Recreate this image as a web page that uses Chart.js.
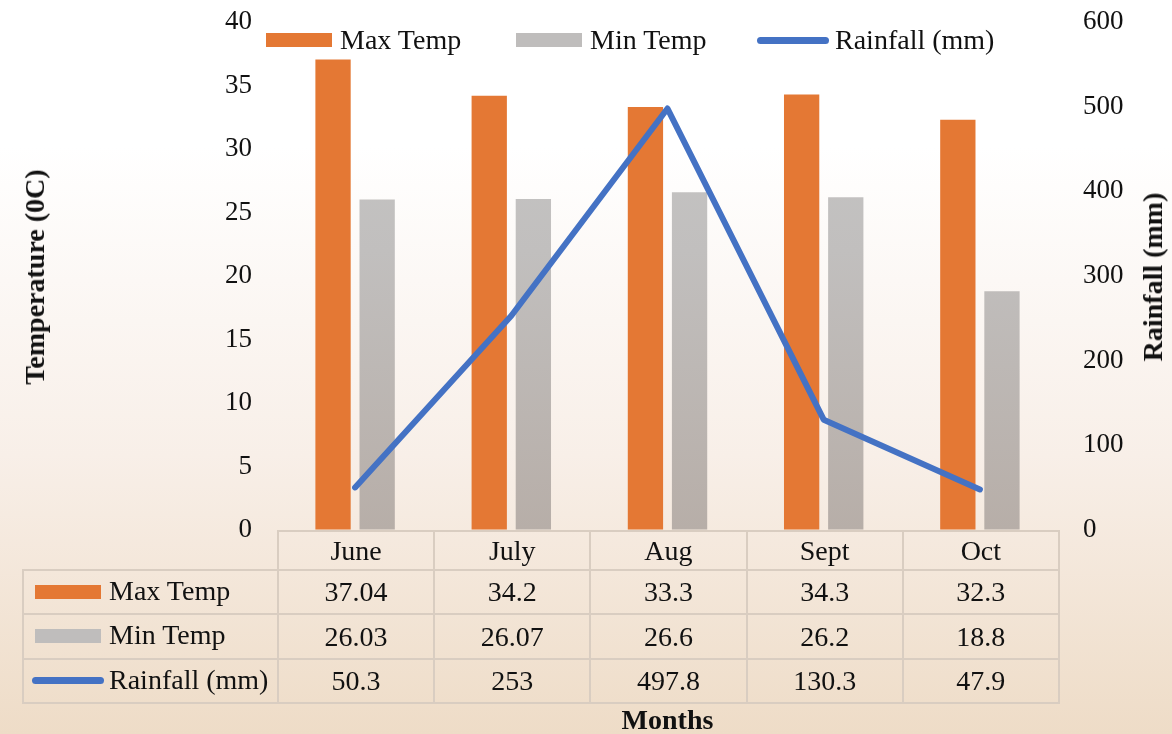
<!DOCTYPE html>
<html>
<head>
<meta charset="utf-8">
<script src="https://cdn.jsdelivr.net/npm/chart.js@4/dist/chart.umd.min.js"></script>
<style>
html,body{margin:0;padding:0;}
body{width:1172px;height:734px;overflow:hidden;position:relative;
  background:linear-gradient(to bottom,#ffffff 0%,#ffffff 20%,#f8efe8 62%,#eedcc7 100%);
  font-family:"Liberation Serif","Times New Roman",serif;color:#111;}
#c{position:absolute;left:0;top:0;}
.abs{position:absolute;white-space:nowrap;}
.lgtext{font-size:28px;line-height:28px;}
.title{font-weight:bold;font-size:28px;line-height:28px;}
table.dt{position:absolute;border-collapse:collapse;table-layout:fixed;font-size:28px;}
table.dt td{border:2px solid #d9cdc1;text-align:center;padding:0;white-space:nowrap;line-height:28px;}
table.dt td.lab{text-align:left;position:relative;}
table.dt td.blank{border:none;}
.sw{display:inline-block;position:absolute;}
</style>
</head>
<body>
<canvas id="c" width="1172" height="734"></canvas>
<script>
// ---- data ----
const categories = ['June', 'July', 'Aug', 'Sept', 'Oct'];
const maxTemp = [37.04, 34.2, 33.3, 34.3, 32.3];
const minTemp = [26.03, 26.07, 26.6, 26.2, 18.8];
const rainfall = [50.3, 253, 497.8, 130.3, 47.9];
const seriesNames = ['Max Temp', 'Min Temp', 'Rainfall (mm)'];
const tempAxis = {min: 0, max: 40, step: 5};
const rainAxis = {min: 0, max: 600, step: 100};

const ORANGE = '#e47834';
const GRAY = '#c0bdbb';
const BLUE = '#4472c4';
const FONT = '"Liberation Serif","Times New Roman",serif';

function grayFill(c){
  const a = c.chart.chartArea;
  if(!a) return GRAY;
  const g = c.chart.ctx.createLinearGradient(0, a.top, 0, a.bottom);
  g.addColorStop(0, '#c7c7c7');
  g.addColorStop(0.45, '#c1bfbe');
  g.addColorStop(1, '#b7aea8');
  return g;
}

const hiddenGrid = {display: true, drawOnChartArea: false, drawTicks: true, tickLength: 25, color: 'rgba(0,0,0,0)'};

const chart = new Chart(document.getElementById('c'), {
  type: 'bar',
  data: {
    labels: categories,
    datasets: [
      {label: seriesNames[0], data: maxTemp, backgroundColor: ORANGE, yAxisID: 'y', order: 1,
       barPercentage: 0.8, categoryPercentage: 0.565},
      {label: seriesNames[1], data: minTemp, backgroundColor: grayFill, yAxisID: 'y', order: 1,
       barPercentage: 0.8, categoryPercentage: 0.565},
      {type: 'line', label: seriesNames[2], data: rainfall, yAxisID: 'y1', order: 0,
       borderColor: BLUE, borderWidth: 6, pointRadius: 0, tension: 0, fill: false,
       borderCapStyle: 'round', borderJoinStyle: 'round'}
    ]
  },
  options: {
    responsive: false,
    animation: false,
    layout: {padding: {left: 0, right: 0, top: 22, bottom: 204}},
    plugins: {legend: {display: false}, tooltip: {enabled: false}},
    scales: {
      x: {display: false, offset: true},
      y: {position: 'left', min: tempAxis.min, max: tempAxis.max,
          ticks: {stepSize: tempAxis.step, padding: 0, color: '#111', font: {family: FONT, size: 27}},
          grid: hiddenGrid, border: {display: false},
          afterFit: s => { s.width = 277; }},
      y1: {position: 'right', min: rainAxis.min, max: rainAxis.max,
          ticks: {stepSize: rainAxis.step, padding: 0, color: '#111', font: {family: FONT, size: 27}},
          grid: hiddenGrid, border: {display: false},
          afterFit: s => { s.width = 114; }}
    }
  }
});

// ---- overlays: legend, data table, titles ----
const area = chart.chartArea;
const xs = chart.scales.x;
const body = document.body;

function el(tag, cls, css, text){
  const e = document.createElement(tag);
  if(cls) e.className = cls;
  if(css) Object.assign(e.style, css);
  if(text !== undefined) e.textContent = text;
  return e;
}
function swatch(kind, left, top){
  if(kind === 2){
    return el('span', 'sw', {left: left + 'px', top: top + 'px', width: '72px', height: '7px',
      borderRadius: '4px', background: BLUE});
  }
  return el('span', 'sw', {left: left + 'px', top: top + 'px', width: '66px', height: '14px',
    background: kind === 0 ? ORANGE : '#bfbdbc'});
}

// legend
const legendItems = [
  {sw: 266, tx: 340, kind: 0},
  {sw: 516, tx: 590, kind: 1},
  {sw: 757, tx: 835, kind: 2}
];
legendItems.forEach((it, i) => {
  const top = it.kind === 2 ? 37 : 33;
  body.appendChild(swatch(it.kind, it.sw, top));
  body.appendChild(el('div', 'abs lgtext', {left: it.tx + 'px', top: '26px'}, seriesNames[i]));
});

// data table
const tblLeft = 22;
const colW = (xs.right - xs.left) / categories.length;
const labW = xs.left - tblLeft;
const tbl = el('table', 'dt', {left: tblLeft + 'px', top: (area.bottom) + 'px',
  width: (labW + colW * categories.length) + 'px'});
const cg = document.createElement('colgroup');
cg.appendChild(el('col', null, {width: labW + 'px'}));
categories.forEach(() => cg.appendChild(el('col', null, {width: colW + 'px'})));
tbl.appendChild(cg);
const rowH = [39, 42, 43, 42];
const hr = el('tr', null, {height: rowH[0] + 'px'});
hr.appendChild(el('td', 'blank'));
categories.forEach(c => hr.appendChild(el('td', null, null, c)));
tbl.appendChild(hr);
[maxTemp, minTemp, rainfall].forEach((arr, r) => {
  const tr = el('tr', null, {height: rowH[r + 1] + 'px'});
  const lab = el('td', 'lab');
  const inner = el('div', null, {position: 'relative', height: rowH[r + 1] + 'px'});
  if(r === 2){
    inner.appendChild(swatch(2, 8, 17));
  } else {
    inner.appendChild(swatch(r, 11, 14));
  }
  inner.appendChild(el('span', 'abs', {left: '85px', top: '6px'}, seriesNames[r]));
  lab.appendChild(inner);
  tr.appendChild(lab);
  arr.forEach(v => tr.appendChild(el('td', null, null, String(v))));
  tbl.appendChild(tr);
});
body.appendChild(tbl);

// axis titles
function rotTitle(text, cx, cy){
  body.appendChild(el('div', 'abs title', {left: cx + 'px', top: cy + 'px',
    transform: 'translate(-50%,-50%) rotate(-90deg)'}, text));
}
rotTitle('Temperature (0C)', 35, 277);
rotTitle('Rainfall (mm)', 1153, 277);
body.appendChild(el('div', 'abs title', {left: ((xs.left + xs.right) / 2) + 'px', top: '706px',
  transform: 'translateX(-50%)'}, 'Months'));
</script>
</body>
</html>
